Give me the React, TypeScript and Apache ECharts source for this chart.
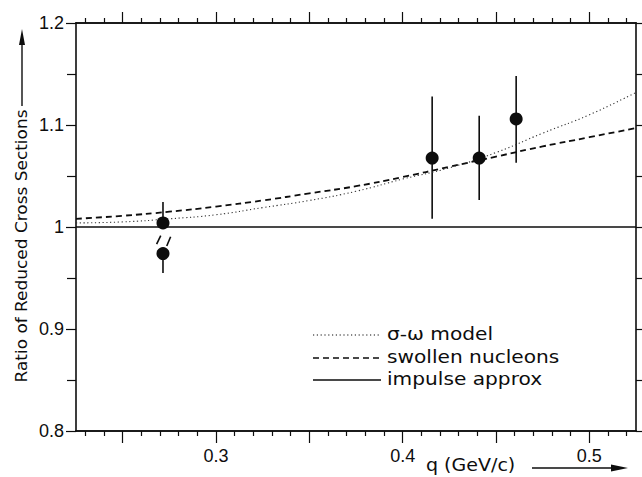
import React, { useEffect, useRef } from 'react';
import * as echarts from 'echarts';

// ---- data ----
const qMin = 0.225;
const qMax = 0.525;
const ratioMin = 0.8;
const ratioMax = 1.2;

const pointQ = [0.2716, 0.2716, 0.4158, 0.441, 0.4608];
const pointRatio = [1.004, 0.974, 1.0676, 1.0676, 1.106];
const barLow = [1.004, 0.955, 1.008, 1.0265, 1.063];
const barHigh = [1.0245, 0.974, 1.128, 1.109, 1.148];
// broken error-bar marks between the two low-q points: [q1, r1, q2, r2]
const breakMarks = [
  [0.2682, 0.9833, 0.2704, 0.9915],
  [0.2736, 0.9814, 0.2757, 0.9905],
];

const modelQ = [0.225, 0.25, 0.275, 0.3, 0.325, 0.35, 0.375, 0.4, 0.425, 0.45, 0.475, 0.5, 0.525];
const sigmaOmega = [1.004, 1.005, 1.008, 1.012, 1.019, 1.026, 1.035, 1.047, 1.058, 1.073, 1.092, 1.11, 1.132];
const swollen = [1.008, 1.011, 1.015, 1.02, 1.026, 1.033, 1.04, 1.049, 1.059, 1.069, 1.079, 1.088, 1.097];
const impulseQ = [0.225, 0.525];
const impulse = [1.0, 1.0];

// tick positions on the q axis
const qMinorTicks = [
  0.23, 0.24, 0.26, 0.27, 0.28, 0.29, 0.31, 0.32, 0.33, 0.34, 0.36, 0.37, 0.38, 0.39,
  0.41, 0.42, 0.43, 0.44, 0.46, 0.47, 0.48, 0.49, 0.51, 0.52,
];
const qMajorTicks = [0.25, 0.3, 0.35, 0.4, 0.45, 0.5];
const qLabelValues = [0.3, 0.4, 0.5];
const xTickLabels = ['0.3', '0.4', '0.5'];

const legendLabels = ['σ-ω model', 'swollen nucleons', 'impulse approx'];
const xTitle = 'q (GeV/c)';
const yTitle = 'Ratio of Reduced Cross Sections';

const INK = '#0d0d0d';

export default function App() {
  const ref = useRef<HTMLDivElement>(null);

  useEffect(() => {
    if (!ref.current) return;
    const chart = echarts.init(ref.current, undefined, { renderer: 'svg' });

    const tickFont = { fontFamily: 'Liberation Sans', fontSize: 18, color: INK };
    const xLabelFormatter = (v: number) => {
      const i = qLabelValues.findIndex((t) => Math.abs(t - v) < 1e-6);
      return i >= 0 ? xTickLabels[i] : '';
    };

    const baseX = {
      type: 'value',
      min: qMin,
      max: qMax,
      splitLine: { show: false },
      axisLine: { show: true, onZero: false, lineStyle: { color: INK, width: 1.6 } },
    };
    const minorTickStyle = { show: true, inside: false, length: 5, customValues: qMinorTicks, lineStyle: { color: INK, width: 1.2 } };
    const majorTickStyle = { show: true, inside: false, length: 12, customValues: qMajorTicks, lineStyle: { color: INK, width: 1.2 } };

    const baseY = {
      type: 'value',
      min: ratioMin,
      max: ratioMax,
      interval: 0.1,
      splitLine: { show: false },
      minorSplitLine: { show: false },
      axisLine: { show: true, onZero: false, lineStyle: { color: INK, width: 1.6 } },
    };

    const curve = (ys: number[]) => modelQ.map((q, i) => [q, ys[i]]);

    const legendRows = [
      { y: 335, dash: [1.2, 2.6], width: 1.2 },
      { y: 358, dash: [6, 4], width: 1.6 },
      { y: 380, dash: null as any, width: 1.5 },
    ];

    const graphics: any[] = [];
    legendRows.forEach((r, i) => {
      graphics.push({
        type: 'line',
        shape: { x1: 313, y1: r.y, x2: 381, y2: r.y },
        style: { stroke: INK, lineWidth: r.width, lineDash: r.dash || undefined },
        silent: true,
      });
      graphics.push({
        type: 'text',
        x: 387,
        y: r.y - 1,
        scaleX: 1.12,
        style: {
          text: legendLabels[i],
          fontFamily: 'DejaVu Sans',
          fontSize: 18,
          fill: INK,
          align: 'left',
          verticalAlign: 'middle',
        },
        silent: true,
      });
    });
    // y-axis title with arrow
    graphics.push({
      type: 'text',
      x: 22,
      y: 246,
      rotation: Math.PI / 2,
      scaleX: 1.06,
      style: {
        text: yTitle,
        fontFamily: 'DejaVu Sans',
        fontSize: 16,
        fill: INK,
        align: 'center',
        verticalAlign: 'middle',
      },
      silent: true,
    });
    graphics.push({
      type: 'line',
      shape: { x1: 22, y1: 106, x2: 22, y2: 40 },
      style: { stroke: INK, lineWidth: 1.4 },
      silent: true,
    });
    graphics.push({
      type: 'polygon',
      shape: { points: [[22, 29], [19, 45], [25, 45]] },
      style: { fill: INK },
      silent: true,
    });
    // x-axis title with arrow
    graphics.push({
      type: 'text',
      x: 426,
      y: 465,
      scaleX: 1.12,
      style: {
        text: xTitle,
        fontFamily: 'DejaVu Sans',
        fontSize: 17,
        fill: INK,
        align: 'left',
        verticalAlign: 'middle',
      },
      silent: true,
    });
    graphics.push({
      type: 'line',
      shape: { x1: 532, y1: 468, x2: 614, y2: 468 },
      style: { stroke: INK, lineWidth: 1.6 },
      silent: true,
    });
    graphics.push({
      type: 'polygon',
      shape: { points: [[628, 468], [611, 464.5], [611, 471.5]] },
      style: { fill: INK },
      silent: true,
    });

    const option: any = {
      animation: false,
      backgroundColor: '#ffffff',
      grid: { left: 76, top: 23, right: 6, bottom: 46, containLabel: false },
      xAxis: [
        {
          ...baseX,
          position: 'bottom',
          axisTick: minorTickStyle,
          axisLabel: { show: false },
        },
        {
          ...baseX,
          position: 'bottom',
          axisTick: majorTickStyle,
          axisLabel: { show: true, margin: 16, customValues: qLabelValues, formatter: xLabelFormatter, ...tickFont },
        },
        {
          ...baseX,
          position: 'top',
          axisTick: minorTickStyle,
          axisLabel: { show: false },
        },
        {
          ...baseX,
          position: 'top',
          axisTick: { ...majorTickStyle, length: 11 },
          axisLabel: { show: false },
        },
      ],
      yAxis: [
        {
          ...baseY,
          position: 'left',
          axisTick: { show: true, inside: false, length: 10, lineStyle: { color: INK, width: 1.2 } },
          minorTick: { show: true, splitNumber: 2, length: 9, lineStyle: { color: INK, width: 1.2 } },
          axisLabel: { show: true, margin: 12, ...tickFont },
        },
        {
          ...baseY,
          position: 'right',
          axisTick: { show: true, inside: false, length: 8, lineStyle: { color: INK, width: 1.2 } },
          minorTick: { show: true, splitNumber: 2, length: 8, lineStyle: { color: INK, width: 1.2 } },
          axisLabel: { show: false },
        },
      ],
      series: [
        {
          name: legendLabels[2],
          type: 'line',
          xAxisIndex: 0,
          yAxisIndex: 0,
          data: impulseQ.map((q, i) => [q, impulse[i]]),
          showSymbol: false,
          lineStyle: { color: INK, width: 1.5, type: 'solid' },
          silent: true,
        },
        {
          name: legendLabels[1],
          type: 'line',
          xAxisIndex: 0,
          yAxisIndex: 0,
          data: curve(swollen),
          smooth: true,
          showSymbol: false,
          lineStyle: { color: INK, width: 1.8, type: [6, 4] },
          silent: true,
        },
        {
          name: legendLabels[0],
          type: 'line',
          xAxisIndex: 0,
          yAxisIndex: 0,
          data: curve(sigmaOmega),
          smooth: true,
          showSymbol: false,
          lineStyle: { color: '#333', width: 1.1, type: [1.2, 2.6] },
          silent: true,
        },
        {
          type: 'custom',
          xAxisIndex: 0,
          yAxisIndex: 0,
          data: pointQ.map((q, i) => [q, barLow[i], barHigh[i]]),
          encode: { x: 0, y: [1, 2] },
          renderItem: (params: any, api: any) => {
            const p1 = api.coord([api.value(0), api.value(1)]);
            const p2 = api.coord([api.value(0), api.value(2)]);
            return {
              type: 'line',
              shape: { x1: p1[0], y1: p1[1], x2: p2[0], y2: p2[1] },
              style: { stroke: INK, lineWidth: 1.6 },
            };
          },
          silent: true,
        },
        {
          type: 'custom',
          xAxisIndex: 0,
          yAxisIndex: 0,
          data: breakMarks,
          encode: { x: [0, 2], y: [1, 3] },
          renderItem: (params: any, api: any) => {
            const p1 = api.coord([api.value(0), api.value(1)]);
            const p2 = api.coord([api.value(2), api.value(3)]);
            return {
              type: 'line',
              shape: { x1: p1[0], y1: p1[1], x2: p2[0], y2: p2[1] },
              style: { stroke: INK, lineWidth: 1.6 },
            };
          },
          silent: true,
        },
        {
          type: 'scatter',
          xAxisIndex: 0,
          yAxisIndex: 0,
          data: pointQ.map((q, i) => [q, pointRatio[i]]),
          symbol: 'circle',
          symbolSize: 13,
          itemStyle: { color: INK, opacity: 1 },
          silent: true,
          z: 5,
        },
      ],
      graphic: graphics,
    };

    chart.setOption(option);
    return () => chart.dispose();
  }, []);

  return (
    <div
      ref={ref}
      style={{ position: 'fixed', left: 0, top: 0, width: 642, height: 477, background: '#fff' }}
    />
  );
}
